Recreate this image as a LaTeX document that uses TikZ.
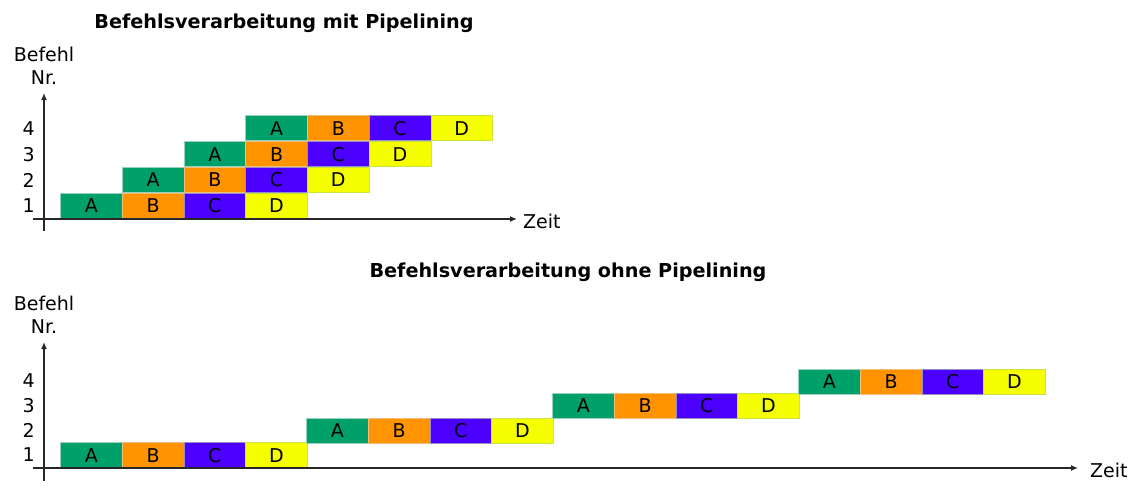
\documentclass[tikz,border=0pt]{standalone}
\usepackage{fontspec}
\setmainfont{DejaVu Sans}
\usetikzlibrary{arrows.meta}
\definecolor{cA}{RGB}{0,160,107}
\definecolor{cB}{RGB}{255,148,0}
\definecolor{cC}{RGB}{76,0,255}
\definecolor{cD}{RGB}{245,255,0}
\definecolor{bA}{RGB}{150,210,190}
\definecolor{bB}{RGB}{240,190,120}
\definecolor{bC}{RGB}{150,140,200}
\definecolor{bD}{RGB}{200,230,60}
\tikzset{
  stagebox/.style={anchor=north west, minimum width=61.75pt, minimum height=25pt, inner sep=0pt, line width=0.8pt, text=black, font=\fontsize{19}{23}\selectfont},
  sA/.style={stagebox, fill=cA, draw=bA},
  sB/.style={stagebox, fill=cB, draw=bB},
  sC/.style={stagebox, fill=cC, draw=bC},
  sD/.style={stagebox, fill=cD, draw=bD},
  axisline/.style={line width=1.4pt, draw=black!85, -{Latex[length=7pt,width=6pt]}},
  lbl/.style={inner sep=0pt, font=\fontsize{19}{23}\selectfont},
  title/.style={inner sep=0pt, font=\fontsize{19.2}{23}\selectfont\bfseries},
}
\begin{document}
\begin{tikzpicture}[x=1pt,y=-1pt]
\useasboundingbox (0,0) rectangle (1143,495);
% titles
\node[title] (t1) at (284,23) {Befehlsverarbeitung mit Pipelining};
\node[title] (t2) at (568,272) {Befehlsverarbeitung ohne Pipelining};
% ---------- top chart ----------
\node[lbl, align=center] (ylab1) at (44,66) {Befehl\\Nr.};
\coordinate (y1s) at (44,231);
\coordinate (y1e) at (44,93);
\coordinate (x1s) at (33,219);
\coordinate (x1e) at (517,219);
\foreach \i in {1,2,3,4}{
  \node[lbl, anchor=east] (n1-\i) at (35,{206-25.9*(\i-1)}) {\i};
  \foreach \s/\L in {0/A,1/B,2/C,3/D}{
    \node[s\L] (p-\i-\s) at ({60+61.75*(\i-1+\s)},{193-25.9*(\i-1)}) {\L};
  }
}
\draw[axisline] (y1s) -- (y1e);
\draw[axisline] (x1s) -- (x1e);
\node[lbl, anchor=west] (z1) at (523,221) {Zeit};
% ---------- bottom chart ----------
\node[lbl, align=center] (ylab2) at (44,315) {Befehl\\Nr.};
\coordinate (y2s) at (44,481);
\coordinate (y2e) at (44,342);
\coordinate (x2s) at (33,468);
\coordinate (x2e) at (1078,468);
\foreach \i in {1,2,3,4}{
  \node[lbl, anchor=east] (n2-\i) at (35,{455-24.7*(\i-1)}) {\i};
  \foreach \s/\L in {0/A,1/B,2/C,3/D}{
    \node[s\L] (q-\i-\s) at ({60+246*(\i-1)+61.75*\s},{442.3-24.6*(\i-1)}) {\L};
  }
}
\draw[axisline] (y2s) -- (y2e);
\draw[axisline] (x2s) -- (x2e);
\node[lbl, anchor=west] (z2) at (1090,470) {Zeit};
\end{tikzpicture}
\end{document}
